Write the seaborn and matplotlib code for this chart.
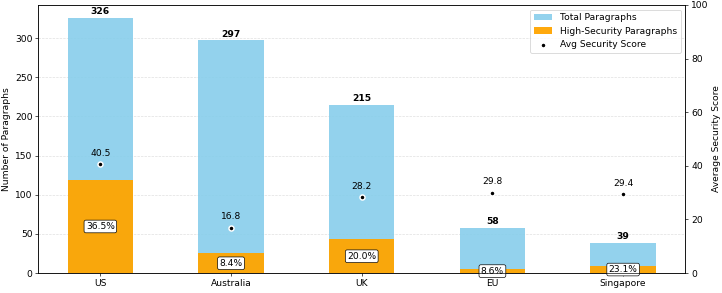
import matplotlib
matplotlib.use("Agg")
import matplotlib.pyplot as plt
import seaborn as sns
import pandas as pd

# data
regions = ["US", "Australia", "UK", "EU", "Singapore"]
total_paragraphs = [326, 297, 215, 58, 39]
high_security = [119, 25, 43, 5, 9]
high_pct = [36.5, 8.4, 20.0, 8.6, 23.1]
avg_score = [40.5, 16.8, 28.2, 29.8, 29.4]

df = pd.DataFrame({
    "region": regions,
    "total": total_paragraphs,
    "high": high_security,
    "pct": high_pct,
    "score": avg_score,
})

plt.rcParams["font.size"] = 11
fig, ax = plt.subplots(figsize=(722 / 60, 293 / 60), dpi=60)

sns.barplot(data=df, x="region", y="total", color="skyblue", alpha=0.9,
            width=0.5, ax=ax, label="Total Paragraphs", saturation=1)
sns.barplot(data=df, x="region", y="high", color="orange", alpha=0.95,
            width=0.5, ax=ax, label="High-Security Paragraphs", saturation=1)

ax.set_ylim(0, max(total_paragraphs) * 1.05)
ax.set_xlabel("")
ax.set_ylabel("Number of Paragraphs")
ax.grid(axis="y", linestyle="--", alpha=0.4)
ax.set_axisbelow(True)

# totals above bars
for i, t in enumerate(total_paragraphs):
    ax.annotate(f"{t}", (i, t), xytext=(0, 1.5), textcoords="offset points",
                ha="center", va="bottom", fontweight="bold", fontsize=11)

# percentage labels inside high-security bars
for i, (h, p) in enumerate(zip(high_security, high_pct)):
    ax.text(i, h / 2, f"{p:.1f}%", ha="center", va="center", fontsize=11,
            bbox=dict(boxstyle="round,pad=0.2", facecolor="white",
                      edgecolor="black", linewidth=0.8))

ax2 = ax.twinx()
sns.scatterplot(x=list(range(len(regions))), y=avg_score, ax=ax2, color="black",
                s=36, edgecolor="white", linewidth=1.8, zorder=5,
                label="Avg Security Score")
ax2.set_ylim(0, 100)
ax2.set_ylabel("Average Security Score")
for i, s in enumerate(avg_score):
    ax2.text(i, s + 2.5, f"{s:.1f}", ha="center", va="bottom", fontsize=11)

h1, l1 = ax.get_legend_handles_labels()
h2, l2 = ax2.get_legend_handles_labels()
if ax2.get_legend():
    ax2.get_legend().remove()
if ax.get_legend():
    ax.get_legend().remove()
ax2.legend(h1 + h2, l1 + l2, loc="upper right", fontsize=11)

fig.subplots_adjust(left=0.053, right=0.949, top=0.983, bottom=0.068)
fig.savefig("out.png", dpi=60)
